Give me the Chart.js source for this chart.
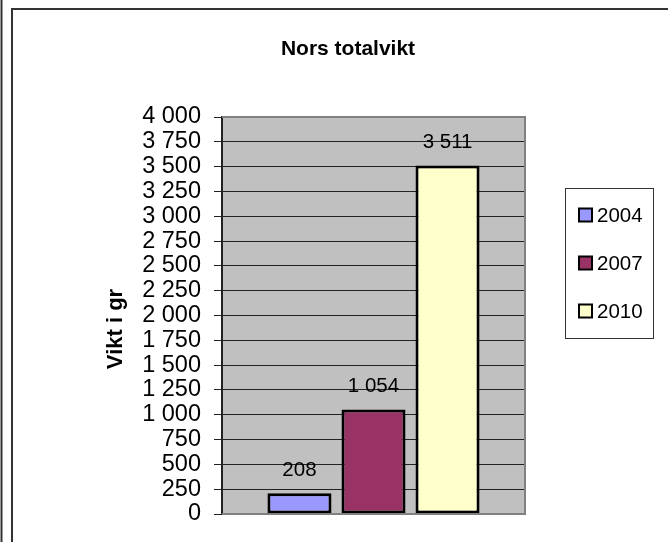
<!DOCTYPE html>
<html lang="sv">
<head>
<meta charset="utf-8">
<title>Nors totalvikt</title>
<script src="https://cdn.jsdelivr.net/npm/chart.js@4/dist/chart.umd.min.js"></script>
<style>
    html, body { margin: 0; padding: 0; background: #fff; }
    #nors-diagram { display: block; }
</style>
</head>
<body>
<canvas id="nors-diagram" width="668" height="542"></canvas>
<script>
// Diagramdata
const kategorier = ['Nors'];
const ar = ['2004', '2007', '2010'];
const vikter = [208, 1054, 3511];
const stapelFarger = ['#9999ff', '#993366', '#ffffcc'];

// Y-axelns skala (gram)
const yMin = 0;
const yMax = 4000;
const ySteg = 250;

const diagramTitel = 'Nors totalvikt';
const yTitel = 'Vikt i gr';

const typsnitt = "'Liberation Sans', Arial, sans-serif";

// Tusental med mellanslag
function formatera(varde) {
    return String(varde).replace(/\B(?=(\d{3})+(?!\d))/g, ' ');
}

// Ram, grå rityta, värdeetiketter, titlar och förklaring
const ramPlugin = {
    id: 'ram',
    beforeDraw(chart) {
        const ctx = chart.ctx;
        const a = chart.chartArea;
        ctx.save();
        ctx.fillStyle = '#fff';
        ctx.fillRect(0, 0, chart.width, chart.height);

        // yttre ramar
        ctx.strokeStyle = '#333';
        ctx.lineWidth = 2;
        ctx.beginPath();
        ctx.moveTo(1.5, 0);
        ctx.lineTo(1.5, chart.height);
        ctx.moveTo(12, chart.height);
        ctx.lineTo(12, 9);
        ctx.lineTo(chart.width, 9);
        ctx.stroke();

        // ritytan
        ctx.fillStyle = '#c0c0c0';
        ctx.fillRect(a.left, a.top, a.right - a.left, a.bottom - a.top);
        ctx.restore();
    },
    afterDatasetsDraw(chart) {
        const ctx = chart.ctx;
        const a = chart.chartArea;
        ctx.save();

        // grå kant: överkant, höger och nederkant
        ctx.strokeStyle = '#808080';
        ctx.lineWidth = 2;
        ctx.beginPath();
        ctx.moveTo(a.left, a.top);
        ctx.lineTo(a.right, a.top);
        ctx.lineTo(a.right, a.bottom);
        ctx.lineTo(a.left, a.bottom);
        ctx.stroke();

        // värden ovanför staplarna
        ctx.fillStyle = '#000';
        ctx.font = '20.5px ' + typsnitt;
        ctx.textAlign = 'center';
        ctx.textBaseline = 'middle';
        chart.data.datasets.forEach((ds, i) => {
            const stapel = chart.getDatasetMeta(i).data[0];
            ctx.fillText(formatera(ds.data[0]), stapel.x, stapel.y - 23);
        });
        ctx.restore();
    },
    afterDraw(chart) {
        const ctx = chart.ctx;
        ctx.save();
        ctx.fillStyle = '#000';

        // diagramtitel
        ctx.font = 'bold 21px ' + typsnitt;
        ctx.textAlign = 'center';
        ctx.textBaseline = 'alphabetic';
        ctx.fillText(diagramTitel, 348, 55);

        // axeltitel, roterad
        ctx.save();
        ctx.translate(122, 329);
        ctx.rotate(-Math.PI / 2);
        ctx.font = 'bold 22px ' + typsnitt;
        ctx.fillText(yTitel, 0, 0);
        ctx.restore();

        // förklaring
        ctx.fillStyle = '#fff';
        ctx.fillRect(565.5, 188.5, 88, 150);
        ctx.strokeStyle = '#333';
        ctx.lineWidth = 1;
        ctx.strokeRect(565.5, 188.5, 88, 150);

        ctx.font = '20.5px ' + typsnitt;
        ctx.textAlign = 'left';
        ctx.textBaseline = 'middle';
        chart.data.datasets.forEach((ds, i) => {
            const y = 215 + i * 48;
            ctx.fillStyle = ds.backgroundColor;
            ctx.fillRect(579, y - 6.5, 13, 13);
            ctx.strokeStyle = '#000';
            ctx.lineWidth = 2;
            ctx.strokeRect(579, y - 6.5, 13, 13);
            ctx.fillStyle = '#000';
            ctx.fillText(ds.label, 597, y + 1);
        });
        ctx.restore();
    }
};

document.addEventListener('DOMContentLoaded', function() {
    const vaggen = document.getElementById('nors-diagram');

    const dataset = ar.map((etikett, i) => ({
        label: etikett,
        data: [vikter[i]],
        backgroundColor: stapelFarger[i],
        borderColor: '#000',
        borderWidth: 3,
        borderSkipped: false,
        categoryPercentage: 0.733,
        barPercentage: 0.865
    }));

    new Chart(vaggen, {
        type: 'bar',
        data: {
            labels: kategorier,
            datasets: dataset
        },
        options: {
            responsive: false,
            devicePixelRatio: 1,
            animation: false,
            layout: {
                padding: { left: 14, right: 143, top: 117, bottom: 28 }
            },
            scales: {
                x: {
                    display: false
                },
                y: {
                    min: yMin,
                    max: yMax,
                    ticks: {
                        stepSize: ySteg,
                        autoSkip: false,
                        padding: 13,
                        color: '#000',
                        font: { family: typsnitt, size: 23.5 },
                        callback: v => formatera(v)
                    },
                    grid: {
                        color: '#222',
                        lineWidth: 1,
                        tickLength: 8
                    },
                    border: {
                        color: '#222',
                        width: 2
                    },
                    afterFit: function(skala) {
                        skala.width = 208;
                    }
                }
            },
            plugins: {
                legend: { display: false },
                title: { display: false },
                tooltip: { enabled: false }
            }
        },
        plugins: [ramPlugin]
    });
});
</script>
</body>
</html>
